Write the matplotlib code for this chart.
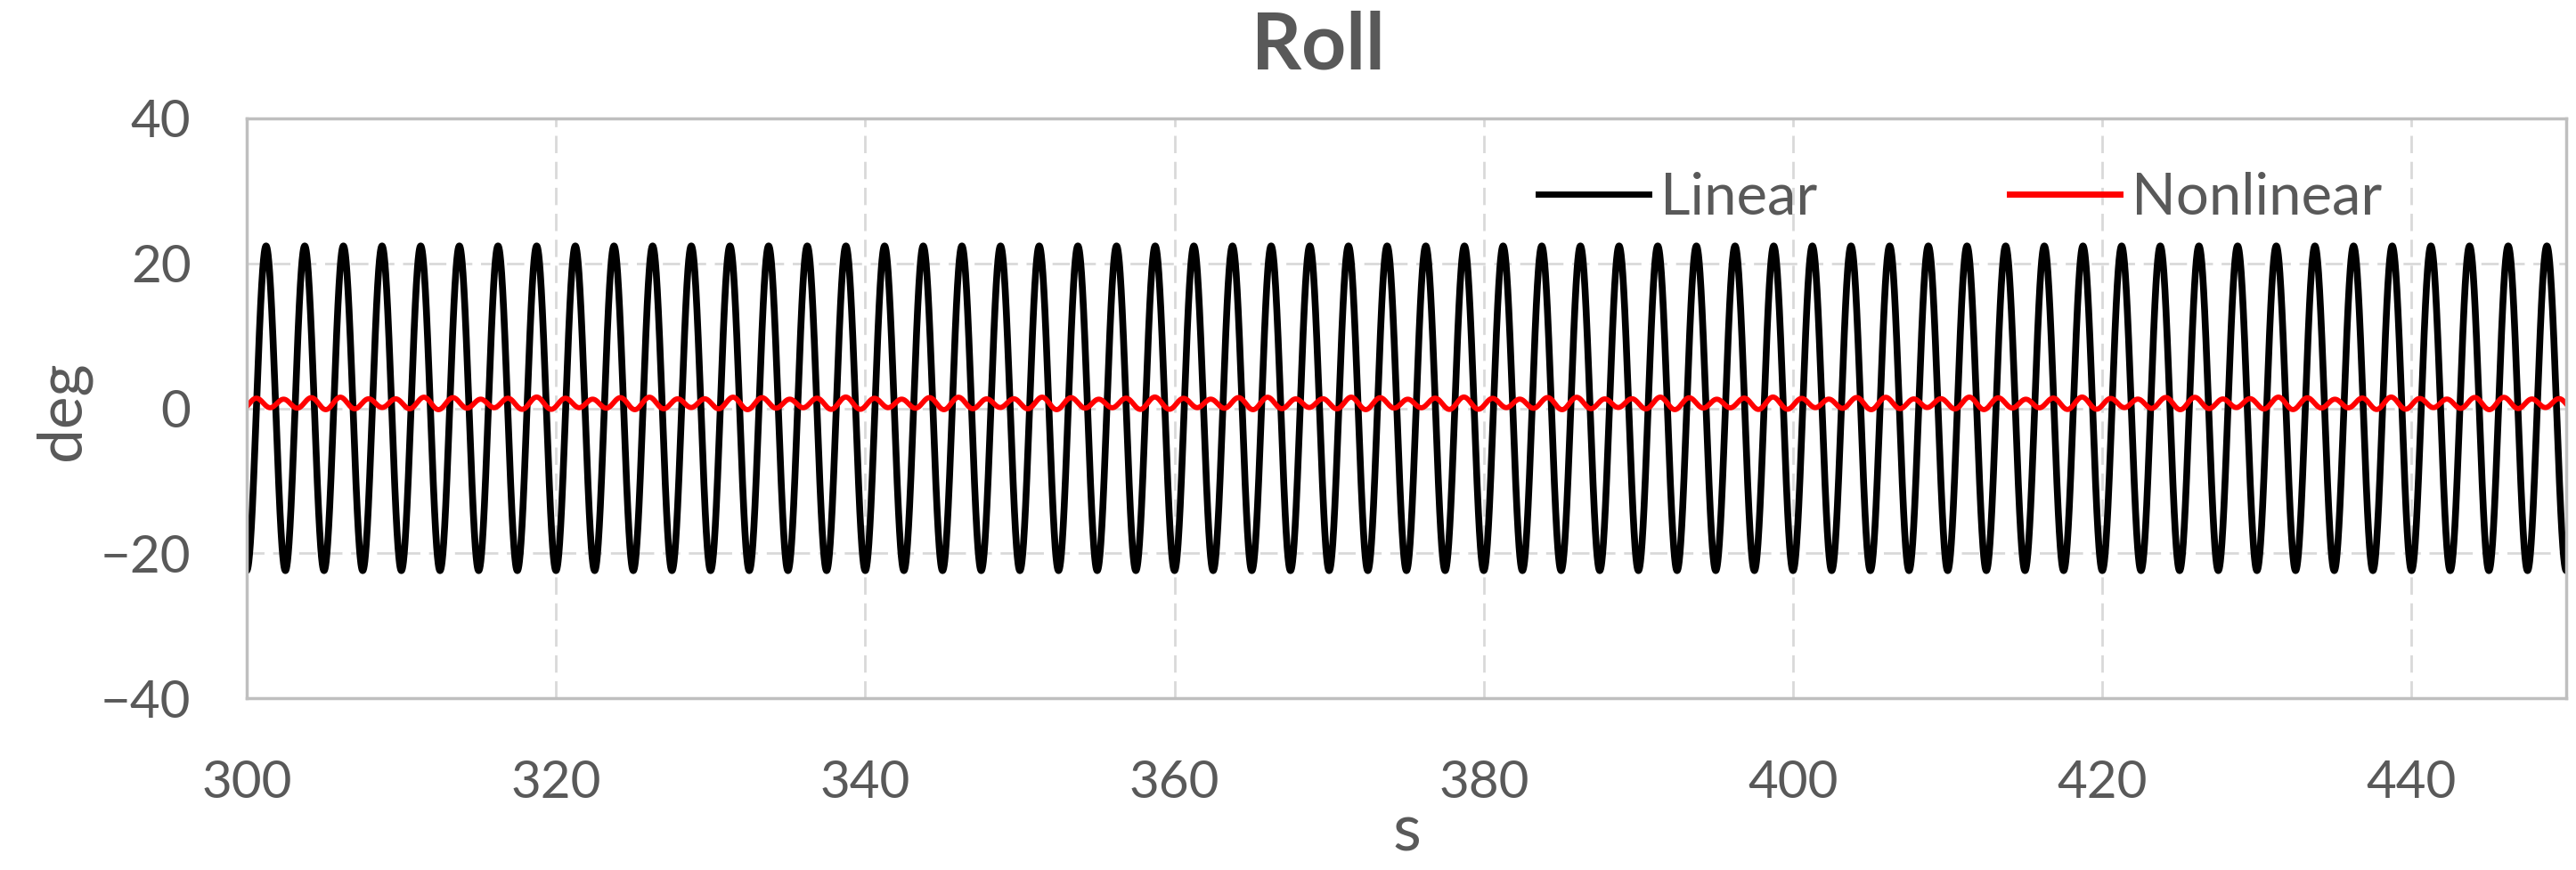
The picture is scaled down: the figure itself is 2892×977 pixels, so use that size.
import numpy as np
import matplotlib
matplotlib.use("Agg")
import matplotlib.pyplot as plt

# ---- data ----
x_ticks = [300, 320, 340, 360, 380, 400, 420, 440]
y_ticks = [-40, -20, 0, 20, 40]
series_names = ["Linear", "Nonlinear"]
series_colors = ["#000000", "#ff0000"]

# Linear roll: regular oscillation
linear_amplitude = 22.4      # deg
linear_period = 2.5          # s
linear_trough_time = 300.0   # s (a trough sits at t=300)

# Nonlinear roll: small oscillation with beating
nonlinear_mean = 0.68                 # deg
nonlinear_periods = [1.817, 2.5]      # s
nonlinear_amplitudes = [0.72, 0.15]   # deg
nonlinear_peak_times = [300.58, 301.25]  # s

t_start, t_end = 300.0, 450.0

# ---- build series ----
t = np.linspace(t_start, t_end, 9001)
linear = -linear_amplitude * np.cos(2 * np.pi * (t - linear_trough_time) / linear_period)
nonlinear = np.full_like(t, nonlinear_mean)
for P, A, tp in zip(nonlinear_periods, nonlinear_amplitudes, nonlinear_peak_times):
    nonlinear += A * np.cos(2 * np.pi * (t - tp) / P)

# ---- figure ----
plt.rcParams['font.family'] = ['Lato', 'DejaVu Sans']
W, H = 2892, 977
fig = plt.figure(figsize=(W / 100, H / 100), dpi=100)
ax = fig.add_axes([277 / W, 1 - 784 / H, (2881 - 277) / W, (784 - 133) / H])

text_gray = "#595959"
ax.plot(t, linear, color=series_colors[0], lw=5.5, label=series_names[0], solid_joinstyle='round')
ax.plot(t, nonlinear, color=series_colors[1], lw=4.2, label=series_names[1], solid_joinstyle='round')

ax.set_xlim(t_start, t_end)
ax.set_ylim(-40, 40)
ax.set_xticks(x_ticks)
ax.set_yticks(y_ticks)
ax.set_yticklabels([("\u2212%d" % abs(v)) if v < 0 else str(v) for v in y_ticks])
ax.tick_params(axis='both', length=0, labelsize=42, colors=text_gray)
ax.tick_params(axis='x', pad=50)
ax.tick_params(axis='y', pad=45)

ax.grid(True, color="#d9d9d9", lw=2.0, linestyle=(0, (7, 3.5)))
ax.set_axisbelow(True)
for s in ax.spines.values():
    s.set_color("#bfbfbf")
    s.set_linewidth(2.5)

fig.text(1480 / W, 1 - 52 / H, "Roll", ha='center', va='center', fontsize=63,
         fontweight='bold', color=text_gray)
fig.text(1579 / W, 1 - 935 / H, "s", ha='center', va='center', fontsize=53, color=text_gray)
fig.text(70 / W, 1 - 461 / H, "deg", ha='center', va='center', rotation=90,
         fontsize=50, color=text_gray)

leg = ax.legend(loc='center left', bbox_to_anchor=(1727 / W, 1 - 222 / H),
                bbox_transform=fig.transFigure, ncol=2, frameon=False,
                fontsize=47, handlelength=1.9, handletextpad=0.2,
                columnspacing=3.3, borderpad=0, borderaxespad=0)
for txt in leg.get_texts():
    txt.set_color(text_gray)
for line in leg.get_lines():
    line.set_linewidth(5)

fig.savefig("out.png", dpi=100)
